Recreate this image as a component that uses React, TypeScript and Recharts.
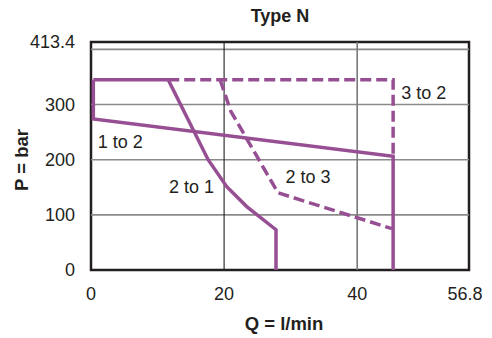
import { Line, LineChart, ReferenceArea, ReferenceDot, ReferenceLine, XAxis, YAxis } from "recharts";

const qTicks = [0, 20, 40, 56.8];
const pTicks = [0, 100, 200, 300, 413.4];
const pGrid = [100, 200, 300, 400];
const qGrid = [20, 40];

// each curve as flow (Q) / pressure (P) pairs
const oneToTwoQ = [0.35, 0.35, 45.4, 45.4];
const oneToTwoP = [345, 274, 206, 0];
const twoToOneQ = [0.35, 11.6, 17.6, 20.4, 23.4, 27.8, 27.8];
const twoToOneP = [345, 345, 200, 151, 115, 73, 0];
const threeToTwoQ = [11.6, 45.4, 45.4];
const threeToTwoP = [345, 345, 206];
const twoToThreeQ = [19.4, 21.0, 28.1, 45.2];
const twoToThreeP = [345, 288, 140, 75];

const labelNames = ["3 to 2", "1 to 2", "2 to 1", "2 to 3"];
const labelQ = [50.0, 4.4, 15.1, 32.6];
const labelP = [321, 232, 152, 169];

const purple = "#974f93";
const ink = "#231f20";
const font = "'Liberation Sans', Arial, Helvetica, sans-serif";

const toPoints = (q: number[], p: number[]) => q.map((x, i) => ({ q: x, p: p[i] }));

function QTick(props: any) {
  const { x, y, payload } = props;
  const shift = payload.value === 56.8 ? -4 : 0;
  return (
    <text x={x + shift} y={y} dy="0.71em" textAnchor="middle" fontSize={18} fill={ink}>
      {payload.value}
    </text>
  );
}

export default function App() {
  return (
    <div style={{ position: "absolute", left: 0, top: 0, width: 492, height: 338, fontFamily: font, color: ink }}>
      <div
        style={{
          position: "absolute",
          left: 280,
          top: 16,
          transform: "translate(-50%, -50%)",
          fontSize: 18,
          fontWeight: 700,
          lineHeight: 1,
          whiteSpace: "nowrap",
        }}
      >
        Type N
      </div>
      <div
        style={{
          position: "absolute",
          left: 22,
          top: 160,
          transform: "translate(-50%, -50%) rotate(-90deg)",
          fontSize: 18.5,
          fontWeight: 700,
          lineHeight: 1,
          whiteSpace: "nowrap",
        }}
      >
        P = bar
      </div>
      <div
        style={{
          position: "absolute",
          left: 284,
          top: 324,
          transform: "translate(-50%, -50%)",
          fontSize: 18.5,
          fontWeight: 700,
          lineHeight: 1,
          whiteSpace: "nowrap",
        }}
      >
        Q = l/min
      </div>
      <LineChart width={492} height={338} margin={{ top: 42, right: 23, bottom: 0, left: 0 }}>
        <XAxis
          type="number"
          dataKey="q"
          domain={[0, 56.8]}
          ticks={qTicks}
          axisLine={false}
          tickLine={false}
          tickSize={0}
          tickMargin={17}
          height={68}
          interval={0}
          tick={<QTick />}
        />
        <YAxis
          type="number"
          dataKey="p"
          domain={[0, 413.4]}
          ticks={pTicks}
          axisLine={false}
          tickLine={false}
          tickSize={0}
          tickMargin={16}
          width={91}
          interval={0}
          tick={{ fontSize: 18, fill: ink }}
        />
        {pGrid.map((p) => (
          <ReferenceLine key={"p" + p} y={p} stroke="#8a8a8a" strokeWidth={1.6} />
        ))}
        {qGrid.map((q, i) => (
          <ReferenceLine key={"q" + q} x={q} stroke={i === 0 ? ink : "#7a7a7a"} strokeWidth={i === 0 ? 1.1 : 1.6} />
        ))}
        <ReferenceArea x1={0} x2={56.8} y1={0} y2={413.4} fill="none" stroke={ink} strokeWidth={2.5} />
        <Line
          data={toPoints(oneToTwoQ, oneToTwoP)}
          dataKey="p"
          type="linear"
          stroke={purple}
          strokeWidth={3.5}
          dot={false}
          isAnimationActive={false}
        />
        <Line
          data={toPoints(twoToOneQ, twoToOneP)}
          dataKey="p"
          type="linear"
          stroke={purple}
          strokeWidth={3.5}
          dot={false}
          isAnimationActive={false}
        />
        <Line
          data={toPoints(threeToTwoQ, threeToTwoP)}
          dataKey="p"
          type="linear"
          stroke={purple}
          strokeWidth={3.5}
          strokeDasharray="11 5"
          dot={false}
          isAnimationActive={false}
        />
        <Line
          data={toPoints(twoToThreeQ, twoToThreeP)}
          dataKey="p"
          type="linear"
          stroke={purple}
          strokeWidth={3.5}
          strokeDasharray="11 5"
          dot={false}
          isAnimationActive={false}
        />
        {labelNames.map((name, i) => (
          <ReferenceDot
            key={name}
            x={labelQ[i]}
            y={labelP[i]}
            r={0}
            fill="none"
            stroke="none"
            label={{ value: name, position: "center", fontSize: 18, fill: ink }}
          />
        ))}
      </LineChart>
    </div>
  );
}
